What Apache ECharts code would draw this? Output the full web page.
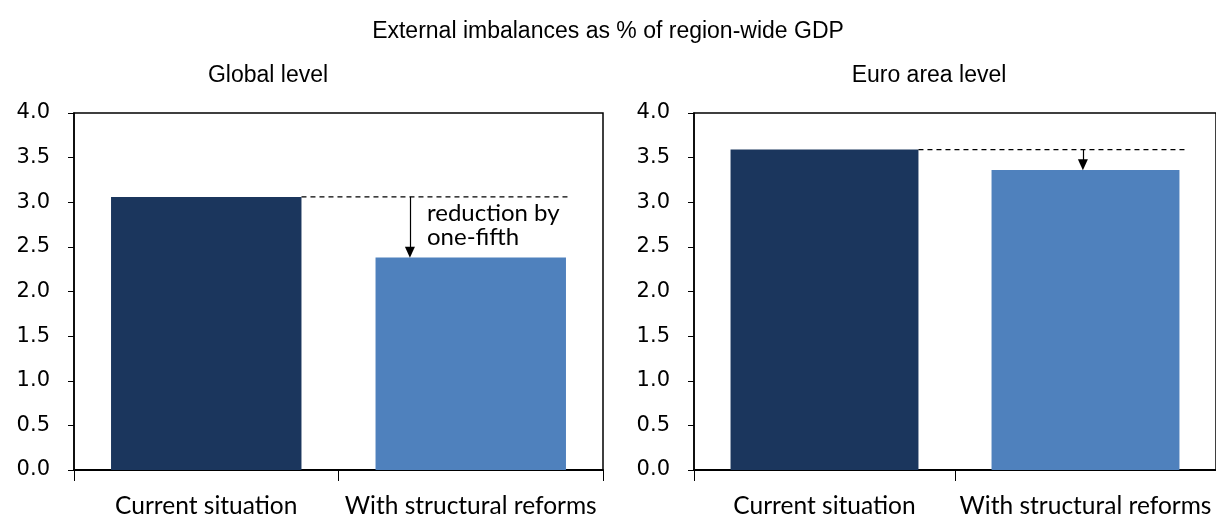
<!DOCTYPE html>
<html><head><meta charset="utf-8">
<script src="https://cdn.jsdelivr.net/npm/echarts@6/dist/echarts.min.js"></script>
<style>html,body{margin:0;padding:0;background:#fff}#c{width:1216px;height:519px}</style>
</head><body><div id="c"></div>
<script>
const title = 'External imbalances as % of region-wide GDP';
const panelTitles = ['Global level', 'Euro area level'];
const categories = ['Current situation', 'With structural reforms'];
const globalValues = [3.06, 2.38];
const euroValues = [3.59, 3.36];
const yTicks = [0, 0.5, 1, 1.5, 2, 2.5, 3, 3.5, 4];
const annotation = 'reduction by\none-fifth';
const barColors = ['#1b365d', '#4f81bd'];

const chart = echarts.init(document.getElementById('c'));
const tickFont = {fontFamily:'DejaVu Sans', fontSize:21, color:'#000'};
const catFont = {fontFamily:'Lato', fontSize:24.5, color:'#000'};
const titleFont = {fontFamily:'Liberation Sans, Arial', fontSize:23, fontWeight:'normal', color:'#000'};
const BW = 0.72; // bar width fraction of category
const grids = [
  {left:74, top:113, width:529, height:359, show:true, borderColor:'#000', borderWidth:1.5, backgroundColor:'transparent'},
  {left:694, top:113, width:530, height:358, show:true, borderColor:'#000', borderWidth:1.5, backgroundColor:'transparent'}
];
function yAxis(i){return {gridIndex:i, type:'value', min:yTicks[0], max:yTicks[yTicks.length-1], interval:yTicks[1]-yTicks[0],
  axisLine:{show:true, lineStyle:{color:'#000', width:1.5}},
  axisTick:{show:true, inside:false, length:6, lineStyle:{color:'#000'}},
  splitLine:{show:false},
  axisLabel:Object.assign({formatter:v=>v.toFixed(1), margin:24}, tickFont)};}
function xCat(i){return {gridIndex:i, type:'category', data:categories,
  axisLine:{show:true, onZero:false, lineStyle:{color:'#000', width:2}},
  axisTick:{show:true, interval:0, length:11, lineStyle:{color:'#000'}},
  axisLabel:Object.assign({margin:24, interval:0, hideOverlap:false}, catFont)};}
function xVal(i){return {gridIndex:i, type:'value', min:0, max:2, show:false};}
function bars(i, vals){return {type:'bar', xAxisIndex:2*i, yAxisIndex:i, barWidth:(BW*100)+'%',
  data:vals.map((v,k)=>({value:v, itemStyle:{color:barColors[k]}})), silent:true, z:2};}
function guide(i, vals, arrowX, endX){
  const start = 0.5 + BW/2;
  return {type:'line', xAxisIndex:2*i+1, yAxisIndex:i, symbol:'none', silent:true, z:3,
    lineStyle:{color:'#000', width:1.2, type:[5,4]},
    data:[[start, vals[0]], [endX, vals[0]]],
    markLine:{silent:true, symbol:['none','triangle'], symbolSize:[10,11], animation:false,
      label:{show:false}, lineStyle:{color:'#000', width:1.2, type:'solid'},
      data:[[{coord:[arrowX, vals[0]]},{coord:[arrowX, vals[1]+0.06]}]]}};
}
const option = {
  animation:false,
  title:[
    {text:title, left:'center', top:15, textStyle:titleFont},
    {text:panelTitles[0], left:263, textAlign:'center', top:59, textStyle:titleFont},
    {text:panelTitles[1], left:924, textAlign:'center', top:59, textStyle:titleFont}
  ],
  grid:grids,
  xAxis:[xCat(0), xVal(0), xCat(1), xVal(1)],
  yAxis:[yAxis(0), yAxis(1)],
  graphic:[{type:'text', left:427, top:201, style:{text:annotation, font:'24px Lato', fill:'#000', lineHeight:24}}],
  series:[
    bars(0, globalValues), guide(0, globalValues, 1.27, 1.87),
    bars(1, euroValues), guide(1, euroValues, 1.49, 1.89)
  ]
};
chart.setOption(option);
</script></body></html>
